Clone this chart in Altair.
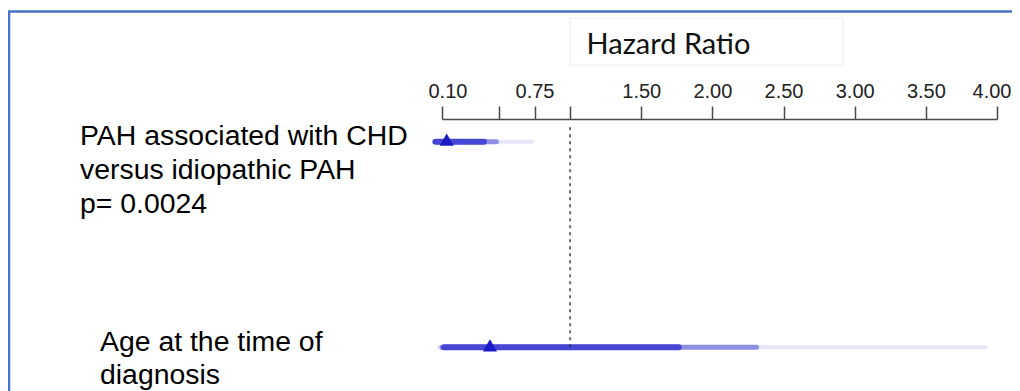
import altair as alt
import pandas as pd

# ---- data ----
rows = ["CHD vs idiopathic", "Age at diagnosis"]
label_lines_1 = ["PAH associated with CHD", "versus idiopathic PAH", "p= 0.0024"]
label_lines_2 = ["Age at the time of", "diagnosis"]
hr = [0.133, 0.437]
inner_lo = [0.055, 0.114]
inner_hi = [0.395, 1.763]
mid_lo = [0.050, 0.100]
mid_hi = [0.482, 2.310]
outer_lo = [0.042, 0.077]
outer_hi = [0.733, 3.920]
ref_hr = 1.0
tick_values = [0.10, 0.50, 0.75, 1.00, 1.50, 2.00, 2.50, 3.00, 3.50, 4.00]
tick_labels = ["0.10", "", "0.75", "", "1.50", "2.00", "2.50", "3.00", "3.50", "4.00"]
axis_title = "Hazard Ratio"

df = pd.DataFrame({
    "row": rows, "hr": hr,
    "inner_lo": inner_lo, "inner_hi": inner_hi,
    "mid_lo": mid_lo, "mid_hi": mid_hi,
    "outer_lo": outer_lo, "outer_hi": outer_hi,
})
ref_df = pd.DataFrame({"row": [rows[1]], "hr": [ref_hr]})
one = pd.DataFrame({"a": [0]})

label_map = "{" + ",".join(f"'{v:.2f}':'{l}'" for v, l in zip(tick_values, tick_labels)) + "}"

W, H = 555, 251
PL, PT = 434, 111
TOTAL_W = 1004

xscale = alt.Scale(domain=[tick_values[0], tick_values[-1]], nice=False, zero=False)
yscale = alt.Scale(type="point", domain=rows, range=[0, H], padding=0.1106)

x_axis = alt.Axis(
    orient="top", values=tick_values, labelExpr=f"{label_map}[format(datum.value, '.2f')]",
    grid=False, domainColor="#4a4a4a", domainWidth=1.5, tickColor="#4a4a4a",
    tickWidth=1.5, tickSize=13, labelFont="Liberation Sans", labelFontSize=20,
    labelColor="#222222", labelPadding=5, labelFlush=True, labelFlushOffset=14,
    labelOverlap=False,
    title=axis_title, titleFont="Lato", titleFontSize=29, titleFontWeight="normal",
    titleColor="#111111", titleX=226, titleY=-66, titleAlign="center",
    titleBaseline="alphabetic", titleAngle=0,
)

base = alt.Chart(df)
Y = alt.Y("row:N", scale=yscale, axis=None)

outer = base.mark_rule(color="#e6e6f8", strokeWidth=4, strokeCap="round").encode(
    x=alt.X("outer_lo:Q", scale=xscale, axis=x_axis), x2="outer_hi:Q", y=Y)
mid = base.mark_rule(color="#8f8fe4", strokeWidth=5, strokeCap="round").encode(
    x=alt.X("mid_lo:Q", scale=xscale), x2="mid_hi:Q", y=Y)
inner = base.mark_rule(color="#4646d4", strokeWidth=6, strokeCap="round").encode(
    x=alt.X("inner_lo:Q", scale=xscale), x2="inner_hi:Q", y=Y)
pts = base.mark_point(shape="triangle-up", filled=True, color="#1a1ac6", size=200, opacity=1).encode(
    x=alt.X("hr:Q", scale=xscale), y=Y, yOffset=alt.value(-2))

ref = alt.Chart(ref_df).mark_rule(color="#222222", strokeWidth=1.3, strokeDash=[3, 4]).encode(
    x=alt.X("hr:Q", scale=xscale), y=Y, y2=alt.value(6))

lab1 = alt.Chart(pd.DataFrame({"row": [rows[0]]})).mark_text(
    text=label_lines_1, align="left", baseline="alphabetic", dy=3, lineHeight=34,
    font="Liberation Sans", fontSize=28.4, color="#000000").encode(
    x=alt.value(80 - 8 - PL), y=Y)
lab2 = alt.Chart(pd.DataFrame({"row": [rows[1]]})).mark_text(
    text=label_lines_2, align="left", baseline="alphabetic", dy=4, lineHeight=33,
    font="Liberation Sans", fontSize=28.4, color="#000000").encode(
    x=alt.value(100 - 8 - PL), y=Y)

# faint box behind the axis title (as in the source slide)
box_title = alt.Chart(one).mark_rect(fill=None, stroke="#eeeeee", strokeWidth=1).encode(
    x=alt.value(570 - 8 - PL), x2=alt.value(843 - 8 - PL), y=alt.value(18 - 8 - PT), y2=alt.value(65 - 8 - PT))

# blue slide frame
frame_top = alt.Chart(one).mark_rule(color="#4472c4", strokeWidth=2.5).encode(
    x=alt.value(-PL), x2=alt.value(TOTAL_W - PL), y=alt.value(11.5 - 8 - PT))
frame_left = alt.Chart(one).mark_rule(color="#4472c4", strokeWidth=2.5).encode(
    x=alt.value(1 - PL), y=alt.value(11.5 - 8 - PT), y2=alt.value(383 - PT))

chart = alt.layer(
    box_title, frame_top, frame_left, outer, mid, inner, ref, pts, lab1, lab2
).properties(
    width=W, height=H, autosize="none",
    padding={"left": PL, "top": PT, "right": TOTAL_W - PL - W, "bottom": 383 - PT - H},
).configure_view(strokeWidth=0)

chart.save("out.html", embed_options={"renderer": "svg", "actions": False})
